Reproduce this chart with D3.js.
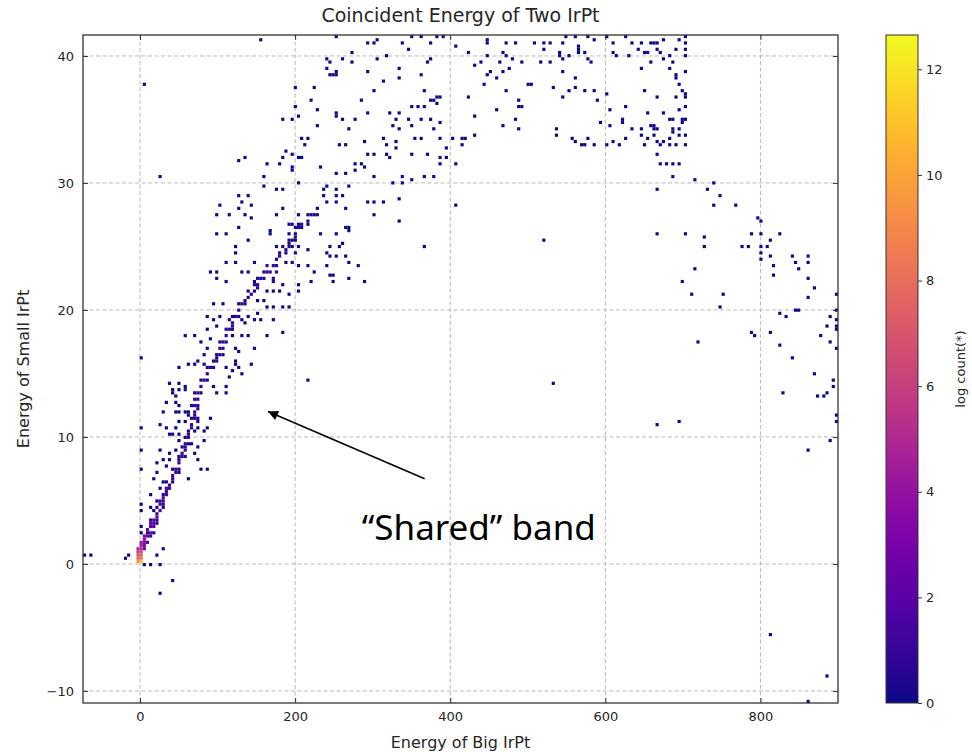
<!DOCTYPE html>
<html>
<head>
<meta charset="utf-8">
<title>Coincident Energy of Two IrPt</title>
<script src="https://cdn.jsdelivr.net/npm/d3@7"></script>
<style>
body { margin: 0; background: #fff; }
svg text { font-family: "DejaVu Sans", sans-serif; fill: #262626; }
</style>
</head>
<body>
<div id="chart"></div>
<script>
// axis ranges and ticks
var xRange = [-73.5, 900];
var yRange = [-10.95, 41.65];
var xTicks = [0, 200, 400, 600, 800];
var yTicks = [-10, 0, 10, 20, 30, 40];
var cbarTicks = [0, 2, 4, 6, 8, 10, 12];
var cbarMax = 12.65;
var nBinsX = 240, nBinsY = 210;

// isolated bins, one count each (log count = 0)
var sparseLevel = 0;
var sparseCells = [
  [157,41.2],[4,37.8],[24,30.6],[241,39.7],[245,39.5],[241,38.9],[246,38.6],[255,38.7],[202,37.6],[226,37.4],
  [222,36.6],[229,35.7],[199,36],[251,35.3],[206,35.3],[183,34.9],[195,34.9],[229,34.4],[210,33.5],[215,33.6],
  [213,33.1],[256,33.1],[187,32.5],[184,32.1],[198,32.3],[203,32.1],[210,32.1],[135,31.9],[126,31.7],[163,31.4],
  [180,31.4],[195,31.0],[195,31.2],[233,31.3],[251,30.8],[158,30.4],[206,30.0],[161,29.8],[241,29.8],[127,29.0],
  [138,29.0],[176,29.4],[183,29.4],[236,29.4],[251,29.4],[236,29.0],[251,29.0],[130,28.4],[103,28.2],[145,28.2],
  [127,27.9],[174,27.6],[183,27.9],[241,28.4],[251,28.4],[230,28.0],[221,27.6],[215,27.6],[206,27.6],[99,27.4],
  [114,27.4],[137,27.5],[145,27.2],[196,26.8],[206,26.7],[217,26.8],[168,26.3],
  [194,26.7],[232,25.9],[253,25.9],[99,26.1],[112,26.1],[129,26.5],[166,25.9],[191,25.9],[198,25.6],[140,25.5],
  [174,25.0],[185,25.0],[198,25.0],[204,25.0],[215,24.7],[245,25.0],[241,24.5],[254,24.3],[122,25.1],[125,24.5],
  [112,23.8],[122,23.8],[99,23.1],[90,23.1],[148,23.8],[189,23.8],[198,23.7],[206,23.4],[202,24.5],[133,23.0],
  [140,23.1],[215,23.4],[224,22.9],[241,23.4],[249,22.8],[221,22.2],[99,22.4],[112,22.2],[146,22.2],[185,22.1],
  [206,22.1],[206,21.6],[163,21.4],[172,21.4],[181,21.4],[133,20.5],[150,20.8],[161,20.8],[191,21.2],[95,20.4],
  [107,20.4],[163,20.3],[172,20.3],[183,20.3],[191,20.3],[88,19.5],[95,19.2],[101,19.5],[116,19.2],[131,19.3],
  [135,19.0],[140,19.5],[146,19.2],[153,19.7],[157,19.3],[172,19.2],[185,18.3],[97,18.7],[86,18.4],[69,17.9],
  [58,17.9],[77,17.4],[86,17.1],[90,17.8],[84,16.5],[120,18.0],[133,17.9],[138,18.0],[122,17.0],[122,16.1],
  [127,16.7],[148,16.9],[163,18.0],[99,16.3],[95,16.1],[52,15.5],[64,15.8],[71,15.7],[75,15.9],[82,15.8],
  [86,15.0],[112,15.5],[125,15.8],[118,15.3],[129,15.4],[142,15.8],[0,16.3],[116,14.7],[131,14.9],[77,14.0],
  [39,14.1],[49,14.2],[43,13.8],[52,13.7],[60,14.0],[47,13.3],[43,13.4],[60,13.6],[95,14.0],[99,13.4],
  [112,14.0],[112,13.4],[32,12.8],[45,12.8],[52,12.4],[60,12.0],[47,11.9],[64,11.6],[215,14.5],
  [30,11.9],[52,11.9],[64,11.9],[73,11.3],[60,11.1],[52,11.3],[90,11.5],[86,10.8],[82,10.4],[73,10.6],
  [26,10.9],[32,10.6],[39,10.3],[47,10.6],[43,10.2],[52,10.2],[60,9.9],[52,9.6],[64,9.5],[56,9.2],
  [47,9.0],[71,8.7],[82,9.6],[73,9.2],[26,9.0],[39,8.7],[30,8.3],[39,8.2],[22,7.9],[34,7.8],
  [0,9.0],[0,7.5],[0,10.6],[73,8.3],[77,7.4],[88,7.5],[52,7.3],[64,6.7],[22,7.1],[19,6.6],
  [28,6.4],[24,6.0],[15,5.4],[22,5.0],[15,4.5],[19,4.3],[0,4.6],[0,4.3],[0,2.9],[0,2.4],
  [30,1.2],[22,0.6],[-13,0.6],[-17,0.4],[4,-0.1],[13,-0.1],[24,-0.1],[-73,0.8],[-64,0.6],[43,-1.3],[24,-2.2],
  [254,41.6],[292,41.1],[301,41.1],[305,41.3],[337,41.1],[352,41.4],[361,41.5],[376,41.0],[383,41.5],[389,41.5],
  [408,40.7],[449,41.3],[449,40.9],[473,41.1],[486,41.0],[507,41.0],[520,41.0],[520,40.4],[529,41.0],[546,41.1],
  [550,41.5],[563,41.5],[576,41.4],[567,40.6],[572,40.3],[275,40.3],[260,39.8],[275,39.5],[305,39.7],[316,40.1],
  [348,40.4],[374,39.7],[370,39.5],[423,40.2],[468,40.3],[473,40.0],[479,39.7],[464,39.4],[449,40.0],[542,40.3],
  [546,39.8],[542,40.0],[554,40.1],[567,40.2],[576,39.7],[516,39.4],[527,39.4],[494,39.4],[430,39.3],[441,39.5],
  [254,38.6],[249,38.6],[294,38.8],[335,38.9],[333,38.2],[361,38.6],[447,38.6],[453,38.7],[460,38.2],[468,38.8],
  [477,38.9],[445,37.8],[503,37.8],[501,37.8],[546,38.8],[563,38.2],[544,36.8],[533,37.5],[554,37.2],[563,37.5],
  [574,37.2],[312,38.0],[301,37.2],[286,36.5],[367,37.2],[374,36.5],[383,36.3],[383,36.8],[423,36.8],[471,37.2],
  [490,36.5],[494,36.1],[488,36.1],[458,35.7],[430,35.3],[486,34.9],[468,34.5],[490,34.2],[535,34.2],[563,33.3],
  [569,33.1],[578,33.4],[557,33.5],[537,33.8],[251,35.4],[260,35.1],[269,34.3],[279,34.9],[292,35.6],[320,35.6],
  [333,35.6],[327,34.4],[335,34.2],[329,34.9],[348,34.9],[352,34.4],[361,34.9],[374,34.9],[380,34.3],[385,34.7],
  [351,36.0],[359,36.0],[368,35.9],[387,36.8],[378,36.5],[256,33.1],[264,33.0],[290,33.3],[314,33.4],[316,32.9],
  [329,33.3],[331,32.7],[355,33.6],[361,33.6],[385,33.6],[393,32.8],[402,33.6],[415,33.5],[421,33.6],[430,33.8],
  [417,33.1],[292,32.2],[301,32.2],[316,32.2],[320,32.1],[352,32.3],[370,32.3],[385,31.9],[393,32.1],[408,31.6],
  [387,31.6],[254,30.8],[267,30.8],[279,31.6],[286,31.5],[290,31.3],[277,31.0],[301,30.5],[325,30.0],[338,30.1],
  [340,30.4],[351,30.2],[368,30.6],[379,30.6],[271,29.8],[262,28.9],[251,29.4],[251,28.9],[251,28.4],[266,28.0],
  [292,28.4],[301,28.4],[312,28.4],[301,27.6],[333,28.8],[333,27.0],[264,26.6],[271,26.4],[408,28.3],
  [271,26.3],[251,25.9],[260,25.2],[256,24.9],[245,25.1],[264,24.3],[245,24.3],[271,23.7],[283,23.4],[245,22.8],
  [248,22.2],[271,22.4],[290,22.2],[367,24.9],[519,25.5],[534,14.2],
  [567,40.7],[567,40.2],[587,41.3],[600,41.5],[611,41.1],[628,41.4],[634,41.1],[647,41.1],[658,41.0],[666,41.1],
  [675,41.3],[662,40.9],[696,41.3],[703,41.5],[703,40.9],[580,39.6],[610,40.2],[615,40.1],[632,40.0],[643,40.6],
  [651,40.3],[656,40.2],[666,40.5],[671,40.3],[675,39.8],[681,40.1],[692,40.5],[703,40.5],[703,40.0],[647,39.1],
  [660,39.4],[686,39.4],[683,38.9],[703,38.7],[692,38.2],[696,37.8],[701,37.3],[705,36.9],[690,38.6],[572,37.2],
  [587,37.2],[591,36.5],[600,37.1],[649,37.2],[668,36.8],[692,36.8],[703,36.8],[625,36.1],[606,35.7],[655,35.6],
  [675,35.6],[694,35.7],[703,35.9],[701,34.9],[703,35.1],[688,35.0],[683,34.9],[595,34.8],[606,34.4],[623,35.0],
  [623,34.7],[634,34.2],[647,34.3],[658,34.4],[668,34.3],[688,34.3],[701,34.7],[696,34.2],[662,34.5],[662,34.3],
  [572,33.1],[578,33.5],[587,33.1],[600,33.1],[608,33.2],[619,33.1],[626,33.4],[647,33.7],[649,33.1],[655,33.4],
  [664,33.7],[668,33.3],[674,33.3],[681,33.1],[683,33.5],[688,33.9],[696,33.7],[703,33.7],[703,33.1],[692,33.1],
  [670,32.9],[668,32.3],[670,31.4],[677,31.4],[686,31.4],[696,31.4],[688,30.6],[668,29.6],[716,30.2],[731,29.6],
  [740,29.9],[748,29.1],[738,28.2],[767,28.2],[797,27.3],[799,26.9],
  [668,25.9],[703,26.1],[726,25.7],[726,25.1],[714,23.2],[698,22.2],[711,21.2],[752,21.2],[748,20.3],[721,17.4],
  [787,26.1],[802,25.9],[802,25.1],[799,24.5],[799,24.1],[776,24.9],[783,25.1],[809,25.1],[813,25.5],[824,26.1],
  [813,24.2],[818,23.4],[818,22.8],[840,24.2],[845,23.7],[848,23.2],[860,24.2],[863,23.8],[860,22.6],[871,21.8],
  [863,21.0],[898,21.2],[897,20.0],[890,19.5],[898,19.2],[898,18.7],[886,18.7],[896,18.5],[878,18.0],[890,17.4],
  [896,17.0],[840,16.2],[868,15.0],[894,14.4],[894,14.0],[828,13.5],[874,13.1],[882,13.1],[886,13.4],[898,11.6],
  [824,19.7],[832,19.5],[846,20.1],[851,19.9],[824,17.2],[813,18.3],[790,18.3],[794,17.9],[749,20.3],
  [665,11.0],[694,11.2],[863,9.0],[891,9.8],[898,11.1],[813,-5.6],[886,-8.9],[860,-10.8]
];

// the "shared" band ridge: [energy big, energy small, log count]
var bandCells = [
  [69,12.4,0.9],[71,12.9,0.9],[75,13.4,0.9],[79,14.0,0.9],[82,14.5,0.9],[88,15.0,0.9],[92,15.5,0.8],[97,16.1,0.8],
  [103,16.6,0.8],[103,17.1,0.8],[107,17.6,0.8],[110,17.9,0.8],[116,18.6,0.8],[120,18.7,0.8],[125,19.5,0.8],
  [129,20.0,0.8],[131,20.5,0.8],[135,20.8,0.7],[142,21.2,0.7],[148,22.1,0.7],[150,21.8,0.7],[155,22.6,0.7],
  [160,23.0,0.7],[165,23.6,0.9],[170,23.4,1.0],[174,23.1,0.9],[168,22.9,1.0],[172,22.6,0.7],[177,23.6,0.7],
  [163,23.1,0.7],[170,22.3,0.6],[181,24.2,0.6],[187,24.7,0.6],[193,25.3,0.6],[200,25.8,0.6],[204,26.4,0.5],
  [209,26.7,0.5],[215,27.1,0.5],[224,27.5,0.4],[230,27.6,0.4],
  [15,3.0,1.6],[20,4.0,1.5],[27,5.0,1.4],[34,6.0,1.3],[41,7.0,1.2],[49,8.0,1.1],[57,9.0,1.0],[63,10.0,1.0],
  [68,11.0,0.9],[70,12.0,0.9],[73,13.0,0.9],[78,14.0,0.9],[87,15.0,0.8],[97,16.0,0.8],[105,17.0,0.8],
  [111,18.0,0.8],[121,19.0,0.8],[128,20.0,0.7],[138,21.0,0.7],[150,22.0,0.7],[161,23.0,0.7],[176,24.0,0.6],
  [192,25.0,0.6],[202,26.0,0.5],[215,27.0,0.5]
];

// flanks of the band, one bin either side of the ridge
var bandEdgeLevel = 0.3;
var bandEdgeCells = [
  [9,2.5],[17,2.5],[14,3.5],[22,3.5],[21,4.5],[29,4.5],[28,5.5],[36,5.5],[36,6.5],[44,6.5],[43,7.5],[51,7.5],
  [50,8.5],[58,8.5],[57,9.5],[65,9.5],[62,10.5],[70,10.5],[66,11.5],[74,11.5],[66,12.5],[74,12.5],[71,13.5],
  [79,13.5],[78,14.5],[86,14.5],[88,15.5],[96,15.5],[98,16.5],[106,16.5],[103,17.5],[111,17.5],[112,18.5],
  [120,18.5],[121,19.5],[129,19.5],[127,20.5],[135,20.5],[141,21.5],[149,21.5],[151,22.5],[159,22.5],
  [163,23.5],[171,23.5],[182,24.5],[190,24.5],[194,25.5],[202,25.5],[202,26.5],[210,26.5],[220,27.5],[228,27.5]
];

// dense core near the origin
var coreCells = [
  [2,0.1,11.0],[-2,0.1,9.5],[2,0.3,10.0],[-2,0.3,8.5],[2,0.5,8.5],[-2,0.5,7.5],[2,0.7,7.5],[-2,0.7,6.5],
  [2,0.9,6.5],[-2,0.9,5.5],[2,1.1,5.5],[-2,1.1,5.0],[2,1.3,5.0],[-2,1.3,4.5],[6,1.3,3.0],[2,1.5,4.5],
  [6,1.5,3.5],[2,1.7,4.0],[6,1.7,3.5],[6,1.9,3.5],[9,2.1,3.0],[6,2.1,3.0],[9,2.3,3.0],[13,2.5,2.5],
  [9,2.7,2.5],[13,2.9,2.3],[13,3.1,2.1],[17,3.3,2.0],[17,3.5,1.9],[21,3.7,1.8],[21,3.9,1.7],[24,4.1,1.6],
  [24,4.3,1.5],[26,4.6,1.5],[28,4.9,1.4],[30,5.1,1.3],[32,5.4,1.3],[34,5.7,1.2],[37,6.0,1.2],[39,6.3,1.1],
  [41,6.6,1.1],[43,6.9,1.1],[45,7.2,1.0],[47,7.5,1.0],[49,7.9,1.0],[52,8.2,1.0],[54,8.5,0.9],[56,8.8,0.9],
  [58,9.2,0.9],[60,9.5,0.9],[62,9.9,0.9],[64,10.2,0.9],[66,10.6,0.9],[68,11.0,0.9],[69,11.4,0.9],[71,11.8,0.9],
  [73,12.2,0.9],[13,2.1,1.3],[17,2.9,1.1],[21,3.3,1.0],[26,4.1,0.9],[30,4.6,0.9],[9,1.7,1.8]
];

// annotation, in data coordinates
var noteText = "\u201CShared\u201D band";
var noteTextPos = [286, 1.9];
var noteArrowFrom = [367, 6.7];
var noteArrowTo = [165, 12.0];

var width = 972, height = 752;
var margin = {top: 35, right: 134, bottom: 49, left: 83};
var plotW = width - margin.left - margin.right;
var plotH = height - margin.top - margin.bottom;

var svg = d3.select("#chart").append("svg")
  .attr("width", width)
  .attr("height", height);

var x = d3.scaleLinear().domain(xRange).range([0, plotW]);
var y = d3.scaleLinear().domain(yRange).range([plotH, 0]);
var color = d3.scaleSequential(d3.interpolatePlasma).domain([0, cbarMax]);

var binW = (xRange[1] - xRange[0]) / nBinsX;
var binH = (yRange[1] - yRange[0]) / nBinsY;

// bin every cell onto the histogram grid, keep highest log count per bin
var allCells = sparseCells.map(function(d) { return [d[0], d[1], sparseLevel]; })
  .concat(bandEdgeCells.map(function(d) { return [d[0], d[1], bandEdgeLevel]; }), bandCells, coreCells);
var binned = d3.rollups(allCells,
  function(v) { return d3.max(v, function(d) { return d[2]; }); },
  function(d) { return Math.floor((d[0] - xRange[0]) / binW) + ":" + Math.floor((d[1] - yRange[0]) / binH); })
  .map(function(e) {
    var k = e[0].split(":");
    return {ix: +k[0], iy: +k[1], v: e[1]};
  })
  .sort(function(a, b) { return a.v - b.v; });

var g = svg.append("g").attr("transform", "translate(" + margin.left + "," + margin.top + ")");

g.append("clipPath").attr("id", "clip")
  .append("rect").attr("width", plotW).attr("height", plotH);

// grid
var grid = g.append("g").attr("class", "grid");
grid.selectAll(".gx").data(xTicks).enter().append("line")
  .attr("x1", function(d) { return x(d); }).attr("x2", function(d) { return x(d); })
  .attr("y1", 0).attr("y2", plotH)
  .attr("stroke", "#b8b8b8").attr("stroke-dasharray", "4,2.5");
grid.selectAll(".gy").data(yTicks).enter().append("line")
  .attr("y1", function(d) { return y(d); }).attr("y2", function(d) { return y(d); })
  .attr("x1", 0).attr("x2", plotW)
  .attr("stroke", "#b8b8b8").attr("stroke-dasharray", "4,2.5");

// histogram cells
g.append("g").attr("clip-path", "url(#clip)")
  .selectAll("rect").data(binned).enter().append("rect")
  .attr("x", function(d) { return x(xRange[0] + d.ix * binW); })
  .attr("y", function(d) { return y(yRange[0] + (d.iy + 1) * binH); })
  .attr("width", function(d) { return x(xRange[0] + (d.ix + 1) * binW) - x(xRange[0] + d.ix * binW); })
  .attr("height", function(d) { return y(yRange[0] + d.iy * binH) - y(yRange[0] + (d.iy + 1) * binH); })
  .attr("fill", function(d) { return color(d.v); });

// axes: ticks inside on all four sides
function styleAxis(sel) {
  sel.select(".domain").remove();
  sel.selectAll(".tick line").attr("stroke", "#333");
  sel.selectAll(".tick text").style("font-size", "13px").attr("fill", "#262626");
}
g.append("g").attr("transform", "translate(0," + plotH + ")")
  .call(d3.axisBottom(x).tickValues(xTicks).tickSizeInner(-5).tickPadding(9).tickFormat(d3.format("d")))
  .call(styleAxis);
g.append("g")
  .call(d3.axisTop(x).tickValues(xTicks).tickSizeInner(-5).tickFormat(""))
  .call(styleAxis);
g.append("g")
  .call(d3.axisLeft(y).tickValues(yTicks).tickSizeInner(-5).tickPadding(9)
    .tickFormat(function(d) { return d < 0 ? "\u2212" + Math.abs(d) : d; }))
  .call(styleAxis);
g.append("g").attr("transform", "translate(" + plotW + ",0)")
  .call(d3.axisRight(y).tickValues(yTicks).tickSizeInner(-5).tickFormat(""))
  .call(styleAxis);

g.append("rect").attr("width", plotW).attr("height", plotH)
  .attr("fill", "none").attr("stroke", "#333").attr("stroke-width", 1.3);

// labels
svg.append("text").attr("x", margin.left + plotW / 2).attr("y", 22)
  .attr("text-anchor", "middle").style("font-size", "19px")
  .text("Coincident Energy of Two IrPt");
svg.append("text").attr("x", margin.left + plotW / 2).attr("y", 748)
  .attr("text-anchor", "middle").style("font-size", "16px")
  .text("Energy of Big IrPt");
svg.append("text")
  .attr("transform", "translate(29," + (margin.top + plotH / 2) + ") rotate(-90)")
  .attr("text-anchor", "middle").style("font-size", "16px")
  .text("Energy of Small IrPt");

// annotation
var defs = svg.append("defs");
defs.append("marker").attr("id", "arrowhead")
  .attr("viewBox", "0 0 10 10").attr("refX", 10).attr("refY", 5)
  .attr("markerWidth", 16).attr("markerHeight", 10).attr("markerUnits", "userSpaceOnUse")
  .attr("orient", "auto")
  .append("path").attr("d", "M0,0L10,5L0,10z").attr("fill", "#000");

g.append("line")
  .attr("x1", x(noteArrowFrom[0])).attr("y1", y(noteArrowFrom[1]))
  .attr("x2", x(noteArrowTo[0])).attr("y2", y(noteArrowTo[1]))
  .attr("stroke", "#000").attr("stroke-width", 1.6)
  .attr("marker-end", "url(#arrowhead)");
g.append("text")
  .attr("x", x(noteTextPos[0])).attr("y", y(noteTextPos[1]))
  .style("font-family", "'Noto Sans', sans-serif").style("font-size", "35px").style("fill", "#000")
  .text(noteText);

// colorbar
var cbX = 886, cbW = 32;
var cbScale = d3.scaleLinear().domain([0, cbarMax]).range([margin.top + plotH, margin.top]);
var grad = defs.append("linearGradient").attr("id", "cbgrad")
  .attr("x1", 0).attr("y1", 1).attr("x2", 0).attr("y2", 0);
grad.selectAll("stop").data(d3.range(0, 1.0001, 0.05)).enter().append("stop")
  .attr("offset", function(t) { return t; })
  .attr("stop-color", function(t) { return d3.interpolatePlasma(t); });
svg.append("rect").attr("x", cbX).attr("y", margin.top).attr("width", cbW).attr("height", plotH)
  .attr("fill", "url(#cbgrad)").attr("stroke", "#333").attr("stroke-width", 1);
svg.append("g").attr("transform", "translate(" + (cbX + cbW) + ",0)")
  .call(d3.axisRight(cbScale).tickValues(cbarTicks).tickSize(4).tickPadding(4))
  .call(styleAxis);
svg.append("text")
  .attr("transform", "translate(965," + (margin.top + plotH / 2) + ") rotate(-90)")
  .attr("text-anchor", "middle").style("font-size", "13px")
  .text("log count(*)");
</script>
</body>
</html>
